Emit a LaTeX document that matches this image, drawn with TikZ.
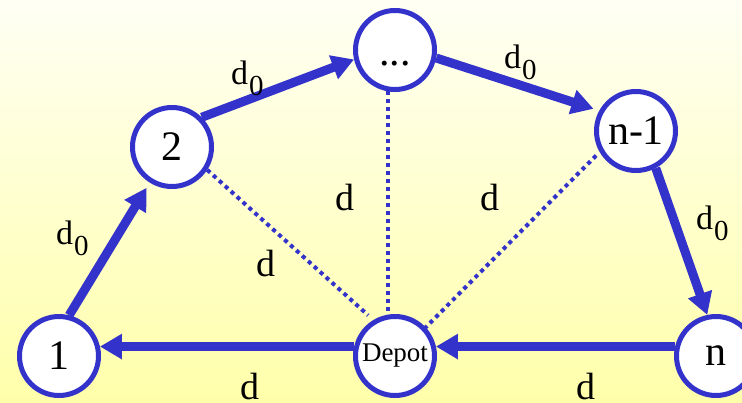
\documentclass[tikz,border=0pt]{standalone}
\usepackage{fontspec}
\setmainfont{Liberation Serif}
\usetikzlibrary{arrows.meta}
\definecolor{eb}{RGB}{51,51,204}
\definecolor{bgtop}{RGB}{255,255,244}
\definecolor{bgbot}{RGB}{255,255,170}
\newcommand\dzero{d\hspace{1pt}\raisebox{-11pt}{\fontsize{29}{29}\selectfont 0}}
\begin{document}
\begin{tikzpicture}[x=1pt,y=-1pt,
  vtx/.style={circle, draw=eb, line width=5pt, fill=white, minimum size=79pt,
    inner sep=0pt, font=\fontsize{42}{42}\selectfont},
  arr/.style={draw=eb, line width=9pt, -{Triangle[length=22pt,width=24pt]}},
  dotline/.style={draw=eb, line width=4pt, dash pattern=on 4pt off 4pt},
  dlbl/.style={inner sep=0pt, anchor=base west, font=\fontsize{34}{34}\selectfont},
  plbl/.style={inner sep=0pt, anchor=base west, font=\fontsize{38}{38}\selectfont}]
\fill[top color=bgtop, bottom color=bgbot] (0,0) rectangle (742,402);
\useasboundingbox (0,0) rectangle (742,402);

\node[vtx] (n1) at (59,356) {1};
\node[vtx] (n2) at (172,147) {2};
\node[vtx] (dots) at (395,50) {\smash{\raisebox{-15pt}{...}}};
\node[vtx] (nm1) at (636,131) {n-1};
\node[vtx] (nn) at (716,356) {n};
\node[vtx, font=\fontsize{27}{27}\selectfont] (dep) at (395,356) {Depot};

\draw[arr, shorten >=6pt] (n1.76) -- (n2.238);
\draw[arr] (n2.45) -- (dots.193);
\draw[arr, shorten >=6pt] (dots.-11) -- (nm1.151);
\draw[arr] (nm1.-62) -- (nn.102);
\draw[arr] (nn.167) -- (dep.13);
\draw[arr] (dep.167) -- (n1.13);

\draw[dotline, shorten >=7pt] (n2.-33) -- (dep.121);
\draw[dotline] (dots.260) -- (dep.100);
\draw[dotline, shorten <=5pt, shorten >=-6pt] (nm1.210) -- (dep.43);

\node[dlbl] (l1) at (56,244) {\dzero};
\node[dlbl] (l2) at (231,84) {\dzero};
\node[dlbl] (l3) at (504,68) {\dzero};
\node[dlbl] (l4) at (696,229) {\dzero};
\node[plbl] (l5) at (256,276) {d};
\node[plbl] (l6) at (335,210) {d};
\node[plbl] (l7) at (480,210) {d};
\node[plbl] (l8) at (240,399) {d};
\node[plbl] (l9) at (576,399) {d};
\end{tikzpicture}
\end{document}
